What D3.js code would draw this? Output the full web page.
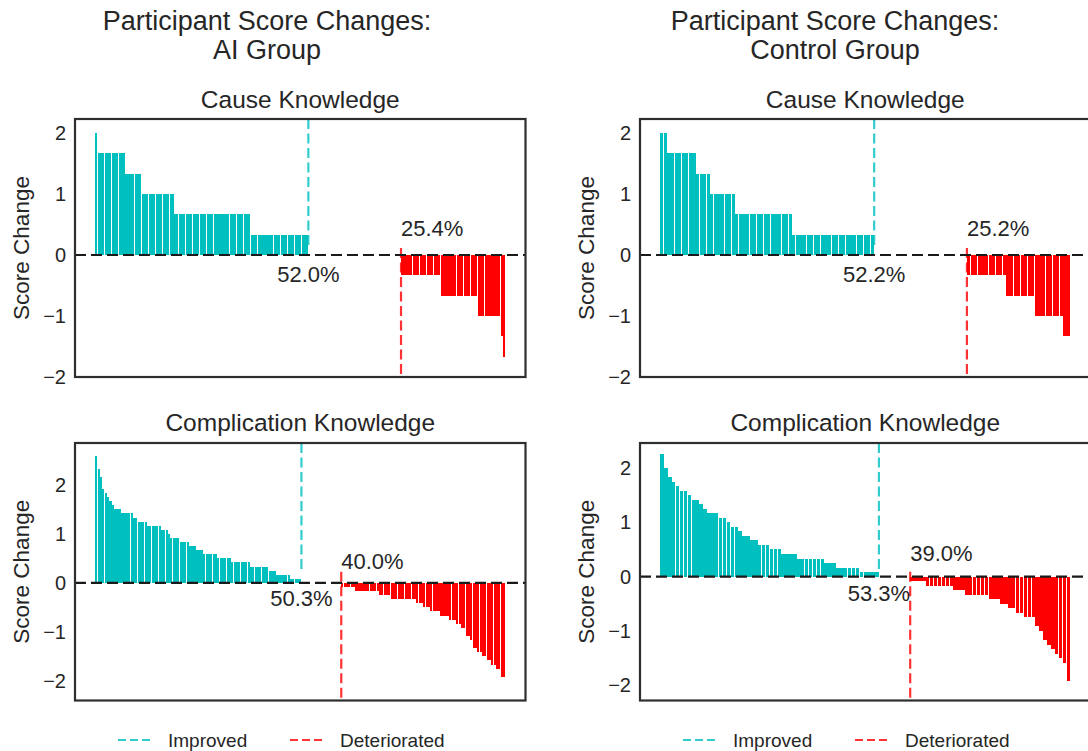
<!DOCTYPE html>
<html>
<head>
<meta charset="utf-8">
<script src="https://cdn.jsdelivr.net/npm/d3@7"></script>
<style>
  body { margin: 0; background: #fff; }
  text { font-family: "Liberation Sans", Arial, sans-serif; fill: #262626; }
</style>
</head>
<body>
<script>
// score change per participant, sorted, as [value, number of participants]
const aiCause = [
  [2, 1], [1.667, 12], [1.333, 7], [1, 14], [0.667, 33], [0.333, 25],
  [0, 40],
  [-0.333, 17], [-0.667, 16], [-1, 10], [-1.333, 1], [-1.667, 1]
];
const controlCause = [
  [2, 2], [1.667, 8], [1.333, 4], [1, 7], [0.667, 16], [0.333, 23],
  [0, 26],
  [-0.333, 11], [-0.667, 8], [-1, 8], [-1.333, 2]
];
const aiComplication = [
  [2.583, 1], [2.333, 1], [2.167, 1], [1.917, 1], [1.833, 1], [1.75, 1], [1.667, 1], [1.583, 1],
  [1.5, 3], [1.417, 5], [1.333, 2], [1.25, 4], [1.167, 6], [1.083, 3], [1, 1], [0.917, 4],
  [0.833, 4], [0.75, 3], [0.667, 3], [0.583, 6], [0.5, 6], [0.417, 8], [0.333, 8], [0.25, 3],
  [0.167, 6], [0.083, 5],
  [0, 17],
  [-0.083, 6], [-0.167, 10], [-0.25, 5], [-0.333, 11], [-0.417, 3], [-0.5, 3], [-0.583, 4],
  [-0.667, 4], [-0.75, 3], [-0.833, 2], [-0.917, 2], [-1.083, 2], [-1.167, 1], [-1.333, 2],
  [-1.417, 2], [-1.5, 2], [-1.583, 2], [-1.667, 2], [-1.75, 2], [-1.917, 2]
];
const controlComplication = [
  [2.25, 1], [2, 1], [1.833, 1], [1.75, 1], [1.667, 1], [1.583, 2], [1.5, 1], [1.417, 2],
  [1.333, 1], [1.25, 1], [1.167, 3], [1.083, 2], [1, 1], [0.917, 2], [0.833, 1], [0.75, 2],
  [0.667, 2], [0.583, 3], [0.5, 3], [0.417, 4], [0.333, 7], [0.25, 3], [0.167, 6], [0.083, 5],
  [0, 8],
  [-0.083, 4], [-0.167, 7], [-0.25, 3], [-0.333, 6], [-0.417, 3], [-0.5, 2], [-0.583, 2],
  [-0.667, 2], [-0.75, 3], [-0.917, 1], [-1, 1], [-1.167, 1], [-1.25, 1], [-1.333, 1],
  [-1.417, 1], [-1.5, 1], [-1.583, 1], [-1.917, 1]
];

const groupTitles = ["AI Group", "Control Group"];
const rowTitles = ["Cause Knowledge", "Complication Knowledge"];
const yTicks = [-2, -1, 0, 1, 2];
const legendLabels = ["Improved", "Deteriorated"];

const TEAL = "#00bfbf", RED = "#ff0000";
const TEAL_LINE = "#33cccc", RED_LINE = "#ff3333";

const W = 1088, H = 751;
const svg = d3.select("body").append("svg").attr("width", W).attr("height", H);

const colX = [75, 640];            // left edge of the axes in each column
const axW = 450.5;
const rowY = [[119, 377], [443, 700.5]];
const panels = [
  {runs: aiCause, col: 0, row: 0, yDom: [-2, 2.23]},
  {runs: controlCause, col: 1, row: 0, yDom: [-2, 2.23]},
  {runs: aiComplication, col: 0, row: 1, yDom: [-2.40, 2.855]},
  {runs: controlComplication, col: 1, row: 1, yDom: [-2.28, 2.46]}
];
const halfBar = 0.44;

const fmt = v => (v < 0 ? "\u2212" : "") + Math.abs(v);

panels.forEach(p => {
  const values = p.runs.flatMap(([v, n]) => d3.range(n).map(() => v));
  const N = values.length;
  const nUp = values.filter(v => v > 0).length;
  const nDown = values.filter(v => v < 0).length;
  const nSame = N - nUp - nDown;

  const x0 = colX[p.col], x1 = x0 + axW;
  const [y0, y1] = rowY[p.row];
  const pad = 0.05 * (N - 0.2);
  const x = d3.scaleLinear().domain([-0.4 - pad, N - 0.6 + pad]).range([x0, x1]);
  const y = d3.scaleLinear().domain(p.yDom).range([y1, y0]);

  const g = svg.append("g");

  // vertical markers
  const xUp = x(nUp - 0.5), xDown = x(nUp + nSame - 0.5);
  g.append("line").attr("x1", xUp).attr("x2", xUp)
    .attr("y1", y0).attr("y2", y1 - 0.5 * (y1 - y0))
    .attr("stroke", TEAL_LINE).attr("stroke-width", 2.2).attr("stroke-dasharray", "10,4.5");
  g.append("line").attr("x1", xDown).attr("x2", xDown)
    .attr("y1", y1 - 0.5 * (y1 - y0)).attr("y2", y1)
    .attr("stroke", RED_LINE).attr("stroke-width", 2.2).attr("stroke-dasharray", "10,4.5");

  // bars
  g.append("g").selectAll("rect")
    .data(values.map((v, i) => ({v, i})).filter(d => d.v !== 0))
    .join("rect")
      .attr("x", d => x(d.i - halfBar))
      .attr("width", d => x(d.i + halfBar) - x(d.i - halfBar))
      .attr("y", d => y(Math.max(0, d.v)))
      .attr("height", d => Math.abs(y(d.v) - y(0)))
      .attr("fill", d => d.v > 0 ? TEAL : RED)
      .attr("shape-rendering", "crispEdges");

  // zero line
  g.append("line").attr("x1", x0).attr("x2", x1).attr("y1", y(0)).attr("y2", y(0))
    .attr("stroke", "#1a1a1a").attr("stroke-width", 2.2).attr("stroke-dasharray", "11,5");

  // percentages
  g.append("text").attr("x", xUp).attr("y", y(-0.31) + 7.9)
    .attr("text-anchor", "middle").style("font-size", "22px")
    .text((100 * nUp / N).toFixed(1) + "%");
  g.append("text").attr("x", xDown).attr("y", y(0.44) + 7.9)
    .style("font-size", "22px")
    .text((100 * nDown / N).toFixed(1) + "%");

  // frame
  g.append("rect").attr("x", x0).attr("y", y0).attr("width", x1 - x0).attr("height", y1 - y0)
    .attr("fill", "none").attr("stroke", "#2e2e2e").attr("stroke-width", 2.2);

  // y axis labels
  const ax = g.append("g").attr("transform", `translate(${x0},0)`)
    .call(d3.axisLeft(y).tickValues(yTicks).tickSize(0).tickPadding(9).tickFormat(fmt));
  ax.select(".domain").remove();
  ax.selectAll("text").style("font-size", "20px").attr("fill", "#262626")
    .style("font-family", '"Liberation Sans", Arial, sans-serif');

  g.append("text")
    .attr("transform", `translate(${x0 - 46},${(y0 + y1) / 2}) rotate(-90)`)
    .attr("text-anchor", "middle").style("font-size", "22.5px")
    .text("Score Change");

  g.append("text").attr("x", (x0 + x1) / 2).attr("y", p.row === 0 ? 108 : 431)
    .attr("text-anchor", "middle").style("font-size", "24.5px")
    .text(rowTitles[p.row]);
});

// column titles
const titleCx = [267, 835];
groupTitles.forEach((t, c) => {
  const tt = svg.append("text").attr("text-anchor", "middle").style("font-size", "27px");
  tt.append("tspan").attr("x", titleCx[c]).attr("y", 30).text("Participant Score Changes:");
  tt.append("tspan").attr("x", titleCx[c]).attr("y", 59).text(t);
});

// legends
const legendX = [118, 683];
legendX.forEach(lx => {
  [TEAL_LINE, RED_LINE].forEach((col, k) => {
    const ox = lx + k * 172;
    svg.append("line").attr("x1", ox).attr("x2", ox + 34).attr("y1", 740).attr("y2", 740)
      .attr("stroke", col).attr("stroke-width", 2.2).attr("stroke-dasharray", "8,4");
    svg.append("text").attr("x", ox + 50).attr("y", 747).style("font-size", "19px")
      .text(legendLabels[k]);
  });
});
</script>
</body>
</html>
